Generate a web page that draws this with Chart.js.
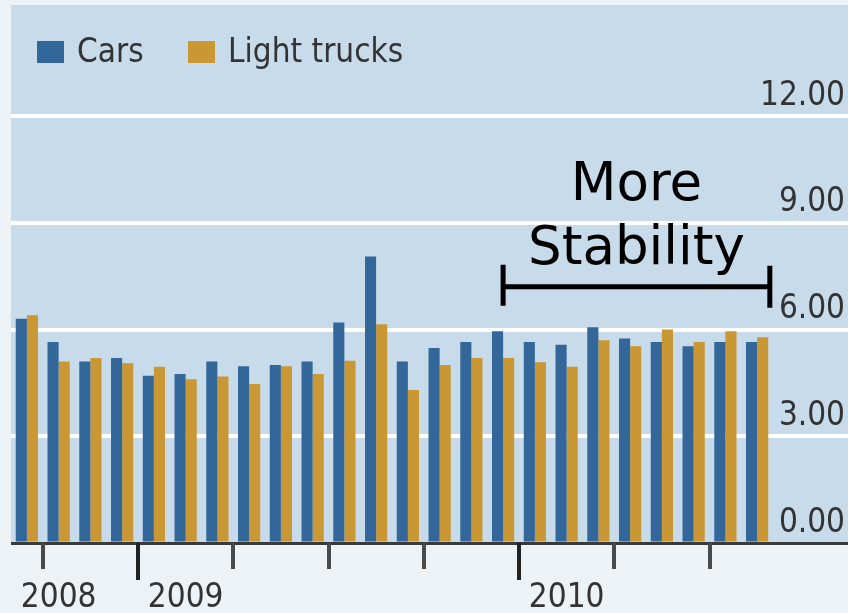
<!DOCTYPE html>
<html>
<head>
<meta charset="utf-8">
<script src="https://cdn.jsdelivr.net/npm/chart.js@4/dist/chart.umd.min.js"></script>
<style>
    html, body { margin: 0; padding: 0; background: #edf2f7; }
    #wrap { width: 848px; height: 613px; }
</style>
</head>
<body>
<div id="wrap"><canvas id="chartSales" width="848" height="613"></canvas></div>
<script>
var months = ['Sep 2008', 'Oct 2008', 'Nov 2008', 'Dec 2008',
    'Jan 2009', 'Feb 2009', 'Mar 2009', 'Apr 2009', 'May 2009', 'Jun 2009',
    'Jul 2009', 'Aug 2009', 'Sep 2009', 'Oct 2009', 'Nov 2009', 'Dec 2009',
    'Jan 2010', 'Feb 2010', 'Mar 2010', 'Apr 2010', 'May 2010', 'Jun 2010',
    'Jul 2010', 'Aug 2010'];
var cars = [6.3, 5.65, 5.1, 5.2, 4.7, 4.75, 5.1, 4.97, 5.0, 5.1, 6.2, 8.05,
    5.1, 5.48, 5.65, 5.95, 5.65, 5.57, 6.06, 5.75, 5.65, 5.53, 5.65, 5.65];
var lightTrucks = [6.4, 5.1, 5.2, 5.05, 4.95, 4.6, 4.68, 4.47, 4.97, 4.75, 5.12, 6.15,
    4.3, 5.0, 5.2, 5.2, 5.08, 4.95, 5.7, 5.53, 6.0, 5.65, 5.95, 5.78];
var yTicks = [0, 3, 6, 9, 12];
var yearLabels = ['2008', '2009', '2010'];
var yearLabelAt = [1, 5, 17];
var quarterStarts = [1, 4, 7, 10, 13, 16, 19, 22];
var yearStarts = [4, 16];
var noteLines = ['More', 'Stability'];
var noteFrom = 15, noteTo = 23.4, noteValue = 7.2;

var narrowFont = "'DejaVu Sans Condensed', 'DejaVu Sans', sans-serif";

var backdropPlugin = {
    id: 'backdrop',
    beforeDraw: function (chart) {
        var ctx = chart.ctx, area = chart.chartArea;
        ctx.save();
        ctx.fillStyle = '#edf2f7';
        ctx.fillRect(0, 0, chart.width, chart.height);
        ctx.fillStyle = '#c8dbea';
        ctx.fillRect(area.left, 5, chart.width - area.left, area.bottom - 5);
        ctx.restore();
    }
};

var legendPlugin = {
    id: 'boxLegend',
    afterDraw: function (chart) {
        var ctx = chart.ctx;
        var boxX = [37, 188];
        ctx.save();
        ctx.font = '33px ' + narrowFont;
        ctx.textBaseline = 'alphabetic';
        chart.data.datasets.forEach(function (ds, i) {
            ctx.fillStyle = ds.backgroundColor;
            ctx.fillRect(boxX[i], 41, 27, 22);
            ctx.fillStyle = '#333';
            ctx.fillText(ds.label, boxX[i] + 40, 62);
        });
        ctx.restore();
    }
};

var quarterTicksPlugin = {
    id: 'quarterTicks',
    afterDraw: function (chart) {
        var ctx = chart.ctx, x = chart.scales.x, bottom = chart.chartArea.bottom;
        ctx.save();
        ctx.lineWidth = 4;
        quarterStarts.forEach(function (k) {
            var px = Math.round(x.getPixelForValue(k - 0.5));
            var isYear = yearStarts.indexOf(k) >= 0;
            ctx.strokeStyle = isYear ? '#222' : '#4a4a4a';
            ctx.beginPath();
            ctx.moveTo(px, bottom);
            ctx.lineTo(px, bottom + (isYear ? 37 : 26));
            ctx.stroke();
        });
        ctx.restore();
    }
};

var notePlugin = {
    id: 'stabilityNote',
    afterDraw: function (chart) {
        var ctx = chart.ctx, x = chart.scales.x, y = chart.scales.y;
        var x1 = x.getPixelForValue(noteFrom), x2 = x.getPixelForValue(noteTo);
        var py = y.getPixelForValue(noteValue);
        ctx.save();
        ctx.strokeStyle = '#000';
        ctx.lineWidth = 5;
        ctx.beginPath();
        ctx.moveTo(x1, py); ctx.lineTo(x2, py);
        ctx.moveTo(x1, py - 22); ctx.lineTo(x1, py + 19);
        ctx.moveTo(x2, py - 21); ctx.lineTo(x2, py + 21);
        ctx.stroke();
        ctx.fillStyle = '#000';
        ctx.font = '53px "DejaVu Sans", sans-serif';
        ctx.textAlign = 'center';
        ctx.textBaseline = 'alphabetic';
        var cx = (x1 + x2) / 2;
        ctx.fillText(noteLines[0], cx, py - 87);
        ctx.fillText(noteLines[1], cx, py - 23);
        ctx.restore();
    }
};

var ctx = document.getElementById('chartSales').getContext('2d');
var salesChart = new Chart(ctx, {
    type: 'bar',
    data: {
        labels: months,
        datasets: [{
            label: 'Cars',
            data: cars,
            backgroundColor: '#336699',
            categoryPercentage: 0.7,
            barPercentage: 1.0
        }, {
            label: 'Light trucks',
            data: lightTrucks,
            backgroundColor: '#c99733',
            categoryPercentage: 0.7,
            barPercentage: 1.0
        }]
    },
    options: {
        responsive: false,
        animation: false,
        devicePixelRatio: 1,
        layout: { padding: { left: 11, top: 116, right: 0, bottom: 0 } },
        plugins: {
            legend: { display: false },
            tooltip: { enabled: false }
        },
        scales: {
            x: {
                afterFit: function (scale) {
                    scale.height = 70;
                    scale.paddingLeft = 0;
                    scale.paddingRight = 0;
                },
                grid: { display: false, drawTicks: false },
                border: { display: false },
                ticks: {
                    autoSkip: false,
                    maxRotation: 0,
                    padding: 39,
                    color: '#333',
                    font: { family: narrowFont, size: 33, lineHeight: 1 },
                    callback: function (value, index) {
                        var at = yearLabelAt.indexOf(index);
                        return at >= 0 ? yearLabels[at] : '';
                    }
                }
            },
            y: {
                position: 'right',
                min: yTicks[0],
                max: yTicks[yTicks.length - 1],
                afterBuildTicks: function (scale) {
                    scale.ticks = yTicks.map(function (v) { return { value: v }; });
                },
                afterFit: function (scale) {
                    scale.width = 75;
                    scale.paddingTop = 0;
                    scale.paddingBottom = 0;
                },
                border: { display: false },
                grid: {
                    color: function (c) { return c.tick && c.tick.value === 0 ? '#3a3a3a' : '#ffffff'; },
                    lineWidth: function (c) { return c.tick && c.tick.value === 0 ? 3 : 4; },
                    drawTicks: true,
                    tickLength: 75
                },
                ticks: {
                    mirror: true,
                    padding: 72,
                    labelOffset: -20,
                    color: '#333',
                    font: { family: narrowFont, size: 33 },
                    callback: function (value) { return value.toFixed(2); }
                }
            }
        }
    },
    plugins: [backdropPlugin, legendPlugin, quarterTicksPlugin, notePlugin]
});
</script>
</body>
</html>
